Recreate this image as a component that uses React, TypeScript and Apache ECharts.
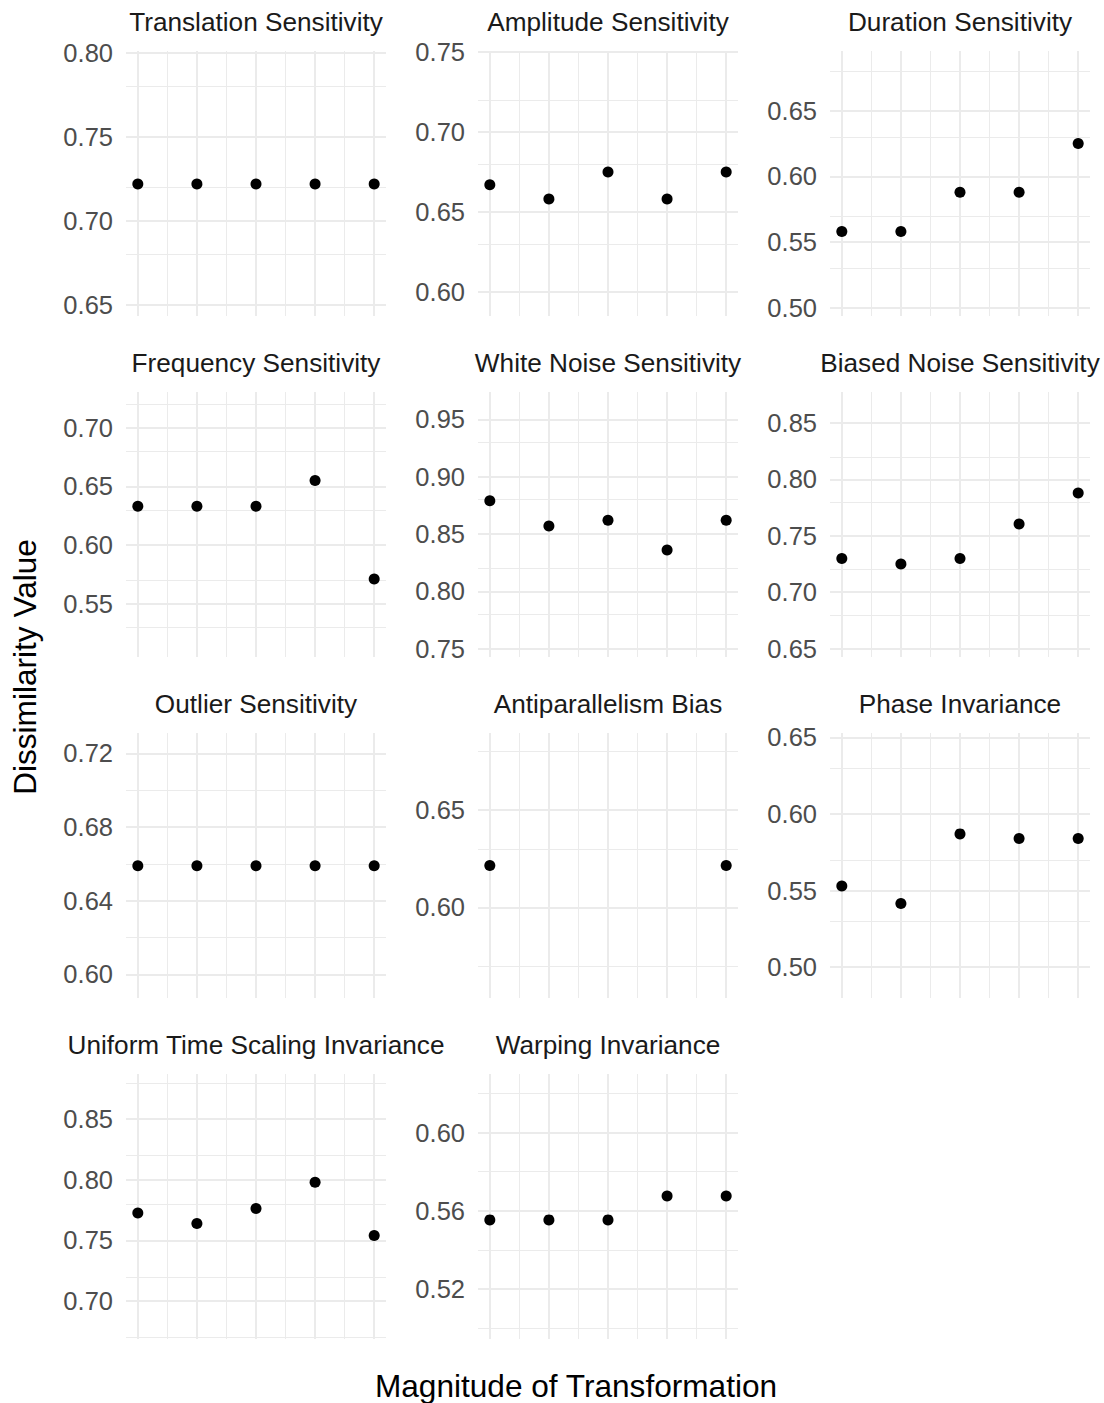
import React, { useEffect, useRef } from "react";
import * as echarts from "echarts";

// Magnitude levels on the shared x axis (1..5)
const magnitudes = [1, 2, 3, 4, 5];

const panelTitles = [
  "Translation Sensitivity",
  "Amplitude Sensitivity",
  "Duration Sensitivity",
  "Frequency Sensitivity",
  "White Noise Sensitivity",
  "Biased Noise Sensitivity",
  "Outlier Sensitivity",
  "Antiparallelism Bias",
  "Phase Invariance",
  "Uniform Time Scaling Invariance",
  "Warping Invariance",
];

// Dissimilarity value per magnitude, one array per property
const translation = [0.722, 0.722, 0.722, 0.722, 0.722];
const amplitude = [0.667, 0.658, 0.675, 0.658, 0.675];
const duration = [0.558, 0.558, 0.588, 0.588, 0.625];
const frequency = [0.633, 0.633, 0.633, 0.655, 0.571];
const whiteNoise = [0.879, 0.857, 0.862, 0.836, 0.862];
const biasedNoise = [0.73, 0.725, 0.73, 0.7605, 0.788];
const outlier = [0.659, 0.659, 0.659, 0.659, 0.659];
const antiparallelism = [0.6215, null, null, null, 0.6215];
const phase = [0.553, 0.5415, 0.587, 0.584, 0.584];
const uniformTimeScaling = [0.7726, 0.764, 0.7764, 0.798, 0.754];
const warping = [0.5553, 0.5553, 0.5553, 0.5675, 0.5675];

const panelValues: (number | null)[][] = [
  translation,
  amplitude,
  duration,
  frequency,
  whiteNoise,
  biasedNoise,
  outlier,
  antiparallelism,
  phase,
  uniformTimeScaling,
  warping,
];

// Free y scale limits of each panel
const yLimits: [number, number][] = [
  [0.6435, 0.801],
  [0.585, 0.7505],
  [0.4937, 0.6955],
  [0.5044, 0.7305],
  [0.7426, 0.974],
  [0.6426, 0.8775],
  [0.5872, 0.7311],
  [0.5536, 0.6894],
  [0.4798, 0.6529],
  [0.6687, 0.8873],
  [0.4943, 0.63],
];

// Labelled y breaks of each panel
const yBreaks: number[][] = [
  [0.65, 0.7, 0.75, 0.8],
  [0.6, 0.65, 0.7, 0.75],
  [0.5, 0.55, 0.6, 0.65],
  [0.55, 0.6, 0.65, 0.7],
  [0.75, 0.8, 0.85, 0.9, 0.95],
  [0.65, 0.7, 0.75, 0.8, 0.85],
  [0.6, 0.64, 0.68, 0.72],
  [0.6, 0.65],
  [0.5, 0.55, 0.6, 0.65],
  [0.7, 0.75, 0.8, 0.85],
  [0.52, 0.56, 0.6],
];

const X_MIN = 0.8;
const X_MAX = 5.2;

const PANEL_LEFTS = [126, 478, 830];
const PANEL_TOPS = [51, 392, 733, 1074];
const PANEL_W = 260;
const PANEL_H = 265;

const FONT = "'Liberation Sans', Arial, sans-serif";
const GRID_COLOR = "#EBEBEB";

// Minor breaks sit half-way between majors (extended one step past each end)
function minorBreaks(major: number[], lim: [number, number]): number[] {
  const step = major[1] - major[0];
  const ext = [major[0] - step, ...major, major[major.length - 1] + step];
  const out: number[] = [];
  for (let i = 0; i < ext.length - 1; i++) {
    const m = (ext[i] + ext[i + 1]) / 2;
    if (m > lim[0] && m < lim[1]) out.push(m);
  }
  return out;
}

function buildOption() {
  const grids: any[] = [];
  const xAxes: any[] = [];
  const yAxes: any[] = [];
  const series: any[] = [];
  const graphics: any[] = [];

  const xMajor = magnitudes;
  const xMinor = minorBreaks(magnitudes, [X_MIN, X_MAX]);

  panelTitles.forEach((title, i) => {
    const col = i % 3;
    const row = Math.floor(i / 3);
    const left = PANEL_LEFTS[col];
    const top = PANEL_TOPS[row];
    const lim = yLimits[i];
    const major = yBreaks[i];
    const minor = minorBreaks(major, lim);

    grids.push({ left, top, width: PANEL_W, height: PANEL_H, containLabel: false });
    xAxes.push({
      gridIndex: i,
      type: "value",
      min: X_MIN,
      max: X_MAX,
      show: false,
    });
    yAxes.push({
      gridIndex: i,
      type: "value",
      min: lim[0],
      max: lim[1],
      axisLine: { show: false },
      axisTick: { show: false },
      splitLine: { show: false },
      axisLabel: {
        customValues: major,
        formatter: (v: number) => v.toFixed(2),
        color: "#4D4D4D",
        fontSize: 25.5,
        fontFamily: FONT,
        margin: 13,
      },
    });

    const gridLines: any[] = [];
    minor.forEach((v) =>
      gridLines.push({ yAxis: v, lineStyle: { color: GRID_COLOR, width: 1, type: "solid" } })
    );
    xMinor.forEach((v) =>
      gridLines.push({ xAxis: v, lineStyle: { color: GRID_COLOR, width: 1, type: "solid" } })
    );
    major.forEach((v) =>
      gridLines.push({ yAxis: v, lineStyle: { color: GRID_COLOR, width: 2, type: "solid" } })
    );
    xMajor.forEach((v) =>
      gridLines.push({ xAxis: v, lineStyle: { color: GRID_COLOR, width: 2, type: "solid" } })
    );

    const points = panelValues[i]
      .map((v, j) => (v == null ? null : [magnitudes[j], v]))
      .filter((p) => p !== null);

    series.push({
      type: "scatter",
      xAxisIndex: i,
      yAxisIndex: i,
      data: points,
      symbol: "circle",
      symbolSize: 11,
      itemStyle: { color: "#000000", opacity: 1 },
      z: 3,
      silent: true,
      markLine: {
        silent: true,
        symbol: "none",
        z: 1,
        animation: false,
        label: { show: false },
        emphasis: { disabled: true },
        data: gridLines,
      },
    });

    graphics.push({
      type: "text",
      x: left + PANEL_W / 2,
      y: top - 29,
      style: {
        text: title,
        fill: "#1A1A1A",
        fontSize: 26.2,
        fontFamily: FONT,
        textAlign: "center",
        textVerticalAlign: "middle",
      },
    });
  });

  graphics.push({
    type: "text",
    x: 25,
    y: 667,
    rotation: Math.PI / 2,
    style: {
      text: "Dissimilarity Value",
      fill: "#000000",
      fontSize: 31.6,
      fontFamily: FONT,
      textAlign: "center",
      textVerticalAlign: "middle",
    },
  });
  graphics.push({
    type: "text",
    x: 576,
    y: 1386,
    style: {
      text: "Magnitude of Transformation",
      fill: "#000000",
      fontSize: 31.6,
      fontFamily: FONT,
      textAlign: "center",
      textVerticalAlign: "middle",
    },
  });

  return {
    animation: false,
    backgroundColor: "#FFFFFF",
    textStyle: { fontFamily: FONT },
    grid: grids,
    xAxis: xAxes,
    yAxis: yAxes,
    series,
    graphic: graphics,
  };
}

export default function App() {
  const ref = useRef<HTMLDivElement>(null);

  useEffect(() => {
    if (!ref.current) return;
    const chart = echarts.init(ref.current, null, { renderer: "svg" });
    chart.setOption(buildOption());
    return () => chart.dispose();
  }, []);

  return (
    <div
      ref={ref}
      style={{ position: "absolute", left: 0, top: 0, width: 1104, height: 1403 }}
    />
  );
}
